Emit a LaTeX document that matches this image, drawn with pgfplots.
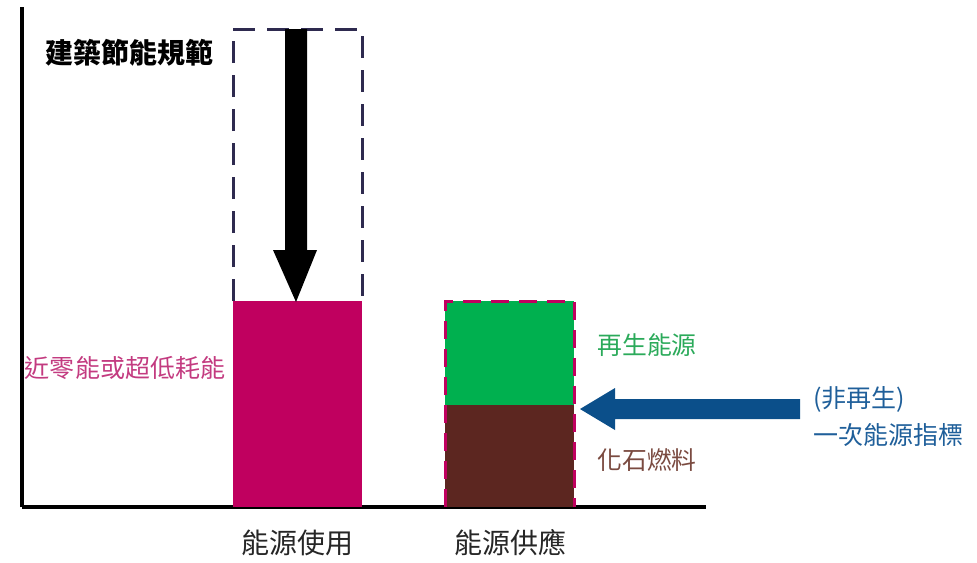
\documentclass[border=0pt]{standalone}
\usepackage{pgfplots}
\pgfplotsset{compat=1.18}
\usepackage{fontspec}
\newfontfamily\cjk{Noto Sans CJK TC}
\definecolor{barmag}{HTML}{C0005F}
\definecolor{bargreen}{HTML}{00B04F}
\definecolor{barbrown}{HTML}{5C2620}
\definecolor{navydash}{HTML}{2E2A4F}
\definecolor{arrowblue}{HTML}{0B4F8A}
\definecolor{txtmag}{HTML}{C33B80}
\definecolor{txtgreen}{HTML}{2BAA5A}
\definecolor{txtbrown}{HTML}{7A4A40}
\definecolor{txtblue}{HTML}{1F5F9A}
\begin{document}
\begin{tikzpicture}
\begin{axis}[
  scale only axis,
  width=342pt, height=250pt,
  xmin=0, xmax=684, ymin=0, ymax=500,
  axis x line*=bottom, axis y line*=left,
  axis line style={line width=2pt, black},
  ytick=\empty,
  xtick={275.5,488},
  xticklabels={能源使用,能源供應},
  major tick length=0pt,
  xticklabel style={font=\cjk\fontsize{14pt}{16pt}\selectfont, color=black!85, anchor=center, yshift=-18pt},
  clip=false,
]
% bounding box
\path (axis cs:-22,-53) rectangle (axis cs:955,507);
% dashed target box (building code)
\addplot[draw=navydash, line width=1.5pt, dash pattern=on 11pt off 6pt] coordinates {(211,206) (211,478) (340,478) (340,206)};
% energy use bar
\addplot[fill=barmag, draw=none] coordinates {(211,0) (340,0) (340,206) (211,206)} --cycle;
% energy supply stacked
\addplot[fill=barbrown, draw=none] coordinates {(423,0) (552,0) (552,102) (423,102)} --cycle;
\addplot[fill=bargreen, draw=none] coordinates {(423,102) (552,102) (552,206) (423,206)} --cycle;
\addplot[draw=barmag, line width=1.5pt, dash pattern=on 9pt off 5pt] coordinates {(423,0) (423,206) (552,206) (552,0)};
% black arrow
\addplot[fill=black, draw=none] coordinates {(263,478) (285,478) (285,257) (295,257) (274,205) (251,257) (263,257)} --cycle;
% blue arrow
\addplot[fill=arrowblue, draw=none] coordinates {(778,108) (593,108) (593,119) (558,98) (593,77) (593,88) (778,88)} --cycle;
% labels
\node[font=\cjk\bfseries\fontsize{14pt}{16pt}\selectfont] at (axis cs:107,454) {建築節能規範};
\node[font=\cjk\fontsize{12.5pt}{14pt}\selectfont, text=txtmag] at (axis cs:103,139) {近零能或超低耗能};
\node[font=\cjk\fontsize{12.4pt}{14pt}\selectfont, text=txtgreen] at (axis cs:625,162) {再生能源};
\node[font=\cjk\fontsize{12.4pt}{14pt}\selectfont, text=txtbrown] at (axis cs:625,47) {化石燃料};
\node[font=\cjk\fontsize{12.5pt}{14pt}\selectfont, text=txtblue, anchor=west, inner sep=0pt] at (axis cs:791,108) {(非再生)};
\node[font=\cjk\fontsize{12.5pt}{14pt}\selectfont, text=txtblue, anchor=west, inner sep=0pt] at (axis cs:791,72) {一次能源指標};
\end{axis}
\end{tikzpicture}
\end{document}
